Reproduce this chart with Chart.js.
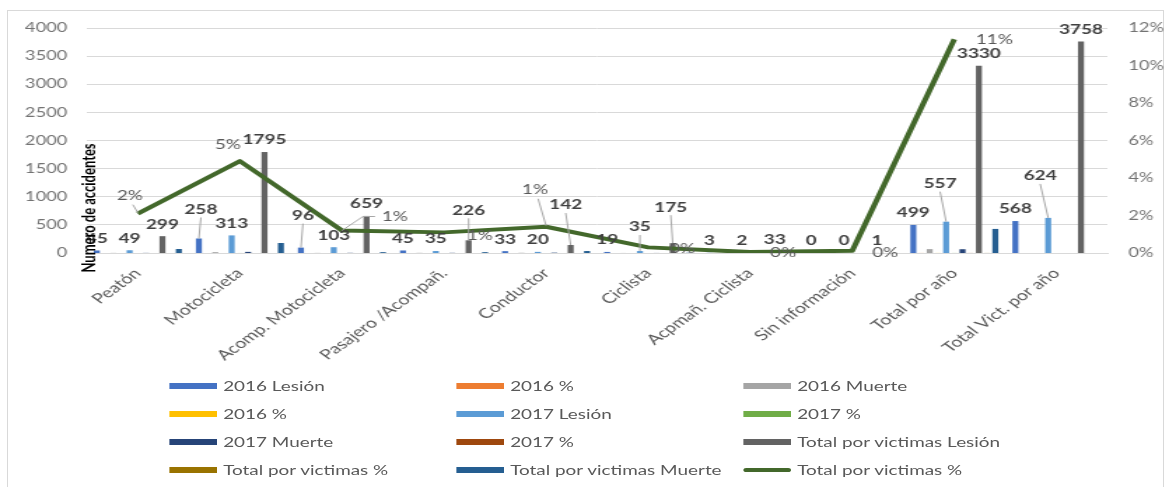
<!DOCTYPE html>
<html lang="es">
<head>
<meta charset="utf-8">
<title>Víctimas por tipo de usuario</title>
<script src="https://cdn.jsdelivr.net/npm/chart.js@4.4.1/dist/chart.umd.min.js"></script>
<style>
  html, body { margin: 0; padding: 0; background: #fff; }
  body { width: 1170px; height: 487px; overflow: hidden; position: relative; font-family: Lato, 'Open Sans', sans-serif; }
  .frame { position: absolute; left: 7px; top: 10px; width: 1157px; height: 490px; border: 1px solid #d9d9d9; box-sizing: border-box; }
  /* the original picture is a horizontally stretched Excel chart */
  .stretch { position: absolute; left: 0; top: 0; width: 836px; height: 487px; transform: scaleX(1.4); transform-origin: 0 0; }
  .plot { position: absolute; left: 0; top: 0; width: 836px; height: 370px; }
  #legend { position: absolute; left: 0; top: 0; width: 836px; height: 487px; }
  .item { position: absolute; height: 20px; display: flex; align-items: center; font-size: 13.5px; color: #595959; white-space: nowrap; }
  .swatch { width: 34px; height: 6px; margin-right: 4px; flex: none; }
  .swatch.line { height: 4px; border-radius: 2px; }
</style>
</head>
<body>
<div class="frame"></div>
<div class="stretch">
  <div class="plot"><canvas id="chart"></canvas></div>
  <div id="legend"></div>
</div>
<script>
const STRETCH = 1.4;

const categories = ['Peatón', 'Motocicleta', 'Acomp. Motocicleta', 'Pasajero /Acompañ.', 'Conductor',
  'Ciclista', 'Acpmañ. Ciclista', 'Sin información', 'Total por año', 'Total Vict. por año'];

const lesion2016 = [45, 258, 96, 45, 33, 19, 3, 0, 499, 568];
const pct2016a = [0.09, 0.52, 0.19, 0.09, 0.07, 0.04, 0.01, 0, 1, null];
const muerte2016 = [2, 15, 2, 3, 4, 1, 0, 0, 69, 0];
const pct2016b = [0.03, 0.22, 0.03, 0.04, 0.06, 0.01, 0, 0, 1, null];
const lesion2017 = [49, 313, 103, 35, 20, 35, 2, 0, 557, 624];
const pct2017a = [0.09, 0.56, 0.18, 0.06, 0.04, 0.06, 0, 0, 1, null];
const muerte2017 = [2, 20, 3, 3, 6, 1, 0, 0, 67, 0];
const pct2017b = [0.03, 0.3, 0.04, 0.04, 0.09, 0.01, 0, 0, 1, null];
const lesionTotal = [299, 1795, 659, 226, 142, 175, 33, 1, 3330, 3758];
const pctTotalBar = [0.09, 0.54, 0.2, 0.07, 0.04, 0.05, 0.01, 0, 1, null];
const muerteTotal = [71, 178, 15, 15, 35, 5, 0, 0, 428, 0];
const pctTotalLine = [0.021, 0.049, 0.012, 0.011, 0.014, 0.003, 0.0005, 0.0012, 0.114, null];

const leftTicks = [0, 500, 1000, 1500, 2000, 2500, 3000, 3500, 4000];
const rightTicks = [0, 0.02, 0.04, 0.06, 0.08, 0.1, 0.12];

const fontFamily = "Lato, 'Open Sans', sans-serif";

// label nudges as seen in the picture: [dx, dy, leader]
const barLabelShift = {
  '0-1': [2, -17, true],
  '0-2': [2, -20, true],
  '8-3': [0, -18, true],
  '8-4': [-5, -28, true],
  '4-5': [0, -12, true],
  '8-5': [-2, -24, true],
  '4-8': [-6, -26, true],
  '4-9': [-8, -30, true],
};
const lineLabelShift = [
  [-8, -18, 'down'], [-12, -16, null], [53, -14, 'elbow'], [36, 3, null], [-11, -37, 'down'],
  [34, 1, null], [33, 1, null], [33, 2, null], [40, 0, null],
];

function bar(label, data, color) {
  return { type: 'bar', label, data, backgroundColor: color, yAxisID: 'y', order: 1,
    categoryPercentage: 0.884, barPercentage: 0.73, inflateAmount: 0 };
}

const datasets = [
  bar('2016 Lesión', lesion2016, '#4472c4'),
  bar('2016 %', pct2016a, '#ed7d31'),
  bar('2016 Muerte', muerte2016, '#a5a5a5'),
  bar('2016 %', pct2016b, '#ffc000'),
  bar('2017 Lesión', lesion2017, '#5b9bd5'),
  bar('2017 %', pct2017a, '#70ad47'),
  bar('2017 Muerte', muerte2017, '#264478'),
  bar('2017 %', pct2017b, '#9e480e'),
  bar('Total por victimas Lesión', lesionTotal, '#636363'),
  bar('Total por victimas %', pctTotalBar, '#997300'),
  bar('Total por victimas Muerte', muerteTotal, '#255e91'),
  {
    type: 'line', label: 'Total por victimas %', data: pctTotalLine, yAxisID: 'y1', order: 0,
    borderColor: '#43682b', backgroundColor: '#43682b', borderWidth: 4, pointRadius: 0,
    tension: 0, borderJoinStyle: 'round', spanGaps: false,
  },
];

const LABELLED_BARS = [0, 4, 8];
const LINE_INDEX = 11;

function leaderLine(ctx, points) {
  ctx.beginPath();
  ctx.moveTo(points[0][0], points[0][1]);
  points.slice(1).forEach((p) => ctx.lineTo(p[0], p[1]));
  ctx.strokeStyle = '#a6a6a6';
  ctx.lineWidth = 1;
  ctx.stroke();
}

const valueLabels = {
  id: 'valueLabels',
  afterDatasetsDraw(chart) {
    const { ctx } = chart;
    ctx.save();
    ctx.textAlign = 'center';
    ctx.textBaseline = 'middle';

    LABELLED_BARS.forEach((dsIndex) => {
      const values = chart.data.datasets[dsIndex].data;
      chart.getDatasetMeta(dsIndex).data.forEach((el, i) => {
        if (values[i] == null) return;
        const shift = barLabelShift[`${dsIndex}-${i}`];
        const lx = el.x + (shift ? shift[0] / STRETCH : 0);
        const ly = el.y - 12 + (shift ? shift[1] : 0);
        if (shift && shift[2]) leaderLine(ctx, [[lx, ly + 8], [el.x, el.y]]);
        ctx.font = `bold 13.5px ${fontFamily}`;
        ctx.fillStyle = '#404040';
        ctx.fillText(String(values[i]), lx, ly);
      });
    });

    const lineValues = chart.data.datasets[LINE_INDEX].data;
    chart.getDatasetMeta(LINE_INDEX).data.forEach((pt, i) => {
      if (lineValues[i] == null) return;
      const shift = lineLabelShift[i] || [0, -12, null];
      const lx = pt.x + shift[0] / STRETCH;
      const ly = pt.y + shift[1];
      if (shift[2] === 'down') leaderLine(ctx, [[lx + 3 / STRETCH, ly + 9], [pt.x, pt.y - 1]]);
      if (shift[2] === 'elbow') {
        leaderLine(ctx, [[pt.x, pt.y], [lx - 32 / STRETCH, ly], [lx - 20 / STRETCH, ly]]);
      }
      ctx.font = `13.5px ${fontFamily}`;
      ctx.fillStyle = '#595959';
      ctx.fillText(`${Math.round(lineValues[i] * 100)}%`, lx, ly);
    });

    // y title sits over the left edge of the plot in the original
    ctx.translate(64, 208);
    ctx.rotate(-Math.PI / 2);
    ctx.font = `bold 13px ${fontFamily}`;
    ctx.fillStyle = '#000';
    ctx.fillText('Numero de accidentes', 0, 0);
    ctx.restore();
  },
};

const chart = new Chart(document.getElementById('chart'), {
  data: { labels: categories, datasets },
  options: {
    responsive: true,
    maintainAspectRatio: false,
    animation: false,
    layout: { padding: { top: 28, left: 0, right: 0, bottom: 0 } },
    plugins: { legend: { display: false }, tooltip: { enabled: false } },
    scales: {
      x: {
        grid: { display: false },
        // the baseline comes from the x border so near-zero bars stay flat
        border: { display: true, color: '#d9d9d9', width: 1 },
        ticks: {
          autoSkip: false, minRotation: 45, maxRotation: 45, padding: 4,
          color: '#595959', font: { family: fontFamily, size: 14 },
        },
        afterFit: (scale) => { scale.height = 117; },
      },
      y: {
        min: leftTicks[0],
        max: leftTicks[leftTicks.length - 1],
        afterBuildTicks: (scale) => { scale.ticks = leftTicks.map((value) => ({ value })); },
        grid: {
          color: '#d9d9d9',
          lineWidth: (ctx) => (ctx.tick && ctx.tick.value === 0 ? 0 : 1),
          drawTicks: false,
        },
        border: { display: false },
        ticks: {
          padding: 14, color: '#737373', font: { family: fontFamily, size: 13 },
          callback: (value) => String(value),
        },
        afterFit: (scale) => { scale.width = 62; },
      },
      y1: {
        position: 'right',
        min: rightTicks[0],
        max: rightTicks[rightTicks.length - 1],
        afterBuildTicks: (scale) => { scale.ticks = rightTicks.map((value) => ({ value })); },
        grid: { drawOnChartArea: false, drawTicks: false },
        border: { display: false },
        ticks: {
          padding: 15, color: '#737373', font: { family: fontFamily, size: 13 },
          callback: (value) => `${Math.round(value * 100)}%`,
        },
        afterFit: (scale) => { scale.width = 45; },
      },
    },
  },
  plugins: [valueLabels],
});

// legend laid out like the Excel one: three columns, four rows
const legendCols = [121.4, 326.4, 531.4];
const legendRows = [386, 414, 442, 470];
const legend = document.getElementById('legend');
chart.data.datasets.forEach((ds, i) => {
  const item = document.createElement('div');
  item.className = 'item';
  item.style.left = `${legendCols[i % 3]}px`;
  item.style.top = `${legendRows[Math.floor(i / 3)] - 10}px`;
  const swatch = document.createElement('span');
  swatch.className = ds.type === 'line' ? 'swatch line' : 'swatch';
  swatch.style.background = ds.type === 'line' ? ds.borderColor : ds.backgroundColor;
  const text = document.createElement('span');
  text.textContent = ds.label;
  item.appendChild(swatch);
  item.appendChild(text);
  legend.appendChild(item);
});
</script>
</body>
</html>
